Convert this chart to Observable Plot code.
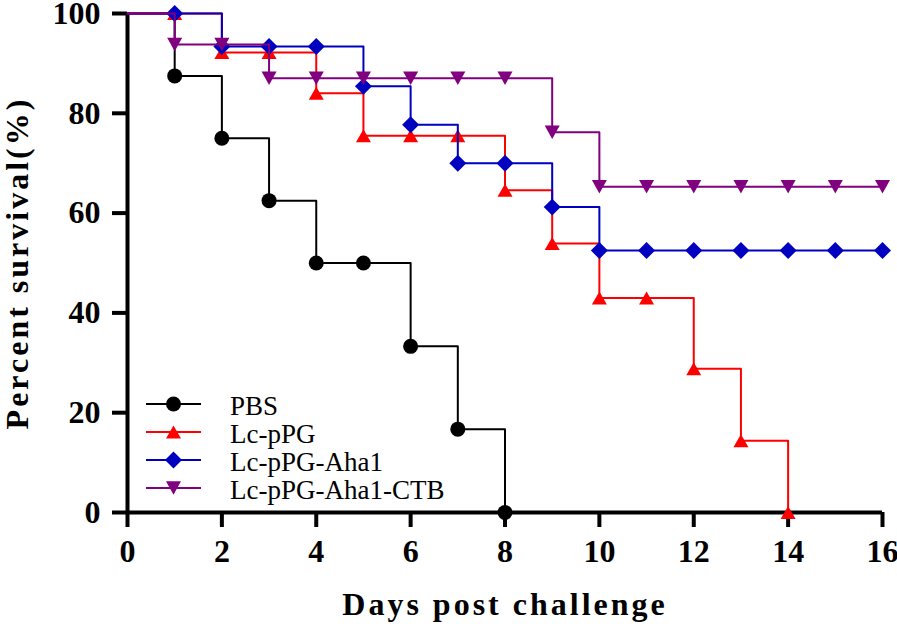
<!DOCTYPE html>
<html>
<head>
<meta charset="utf-8">
<script src="https://cdn.jsdelivr.net/npm/d3@7"></script>
<script src="https://cdn.jsdelivr.net/npm/@observablehq/plot@0.6"></script>
<style>
  html, body { margin: 0; padding: 0; background: #fff; }
  #chart { width: 897px; height: 626px; position: relative; }
</style>
</head>
<body>
<div id="chart"></div>
<script>
// ---- Data ----
const groups = ["PBS", "Lc-pPG", "Lc-pPG-Aha1", "Lc-pPG-Aha1-CTB"];
const colors = ["#000000", "#ff0000", "#0000c0", "#800080"];

const pbsDays = [0, 1, 2, 3, 4, 5, 6, 7, 8];
const pbsSurvival = [100, 87.5, 75, 62.5, 50, 50, 33.3, 16.7, 0];

const lcpDays = [0, 1, 2, 3, 4, 5, 6, 7, 8, 9, 10, 11, 12, 13, 14];
const lcpSurvival = [100, 100, 92.2, 92.2, 84, 75.5, 75.5, 75.5, 64.6, 53.9, 43, 43, 28.8, 14.4, 0];

const ahaDays = [0, 1, 2, 3, 4, 5, 6, 7, 8, 9, 10, 11, 12, 13, 14, 15, 16];
const ahaSurvival = [100, 100, 93.4, 93.4, 93.4, 85.4, 77.7, 70, 70, 61.2, 52.5, 52.5, 52.5, 52.5, 52.5, 52.5, 52.5];

const ctbDays = [0, 1, 2, 3, 4, 5, 6, 7, 8, 9, 10, 11, 12, 13, 14, 15, 16];
const ctbSurvival = [100, 93.8, 93.8, 87, 87, 87, 87, 87, 87, 76.2, 65.3, 65.3, 65.3, 65.3, 65.3, 65.3, 65.3];

const xTicks = [0, 2, 4, 6, 8, 10, 12, 14, 16];
const yTicks = [0, 20, 40, 60, 80, 100];
const xTitle = "Days post challenge";
const yTitle = "Percent survival(%)";

// ---- Symbols (bounding-box centred) ----
const rOf = size => Math.sqrt(size / Math.PI);
const triUp = { draw(ctx, size) { const r = rOf(size), w = 2 * r, h = 0.866 * w;
  ctx.moveTo(0, -h / 2); ctx.lineTo(w / 2, h / 2); ctx.lineTo(-w / 2, h / 2); ctx.closePath(); } };
const triDown = { draw(ctx, size) { const r = rOf(size), w = 2 * r, h = 0.9 * w;
  ctx.moveTo(0, h / 2); ctx.lineTo(w / 2, -h / 2); ctx.lineTo(-w / 2, -h / 2); ctx.closePath(); } };
const diamond = { draw(ctx, size) { const r = rOf(size), d = r * 1.13;
  ctx.moveTo(0, -d); ctx.lineTo(d, 0); ctx.lineTo(0, d); ctx.lineTo(-d, 0); ctx.closePath(); } };
const symbols = [d3.symbolCircle, triUp, diamond, triDown];
const radii = [7.5, 7.5, 7.5, 7.5];

const seriesDays = [pbsDays, lcpDays, ahaDays, ctbDays];
const seriesSurv = [pbsSurvival, lcpSurvival, ahaSurvival, ctbSurvival];
const series = groups.map((g, i) => ({
  name: g, color: colors[i], symbol: symbols[i], r: radii[i],
  rows: seriesDays[i].map((d, j) => ({day: d, pct: seriesSurv[i][j]}))
}));

const font = "'Liberation Serif', 'Times New Roman', Times, serif";

const marks = [
  Plot.axisX({ticks: xTicks, tickSize: 15, tickPadding: 12, strokeWidth: 4, fontSize: 32, fontWeight: "bold", label: null}),
  Plot.axisY({ticks: yTicks, tickSize: 15, tickPadding: 12, strokeWidth: 4, fontSize: 32, fontWeight: "bold", label: null}),
  Plot.ruleX([0], {strokeWidth: 4}),
  Plot.ruleY([0], {strokeWidth: 4})
];
series.forEach(s => {
  marks.push(Plot.line(s.rows, {x: "day", y: "pct", curve: "step-after", stroke: s.color, strokeWidth: 2}));
  marks.push(Plot.dot(s.rows.filter(d => d.day > 0), {x: "day", y: "pct", symbol: s.symbol, r: s.r, fill: s.color, stroke: "none"}));
});
marks.push(Plot.text([xTitle], {text: d => d, frameAnchor: "bottom", textAnchor: "middle", dy: 102, lineAnchor: "bottom", fontSize: 32, fontWeight: "bold"}));
marks.push(Plot.text([yTitle], {text: d => d, frameAnchor: "left", textAnchor: "middle", dx: -100, rotate: -90, lineAnchor: "bottom", fontSize: 32, fontWeight: "bold"}));

const svg = Plot.plot({
  width: 897, height: 626,
  marginLeft: 127, marginRight: 15, marginTop: 13, marginBottom: 114,
  x: {domain: [0, 16]},
  y: {domain: [0, 100]},
  style: {fontFamily: font, background: "white", overflow: "visible"},
  marks
});

// letter-spacing for titles
d3.select(svg).selectAll("text")
  .filter(function() { return this.textContent === xTitle || this.textContent === yTitle; })
  .attr("letter-spacing", 3);

// ---- Legend (inside plot area, bottom-left) ----
const lg = d3.select(svg).append("g").attr("transform", "translate(146,404)");
groups.forEach((g, i) => {
  const row = lg.append("g").attr("transform", `translate(0,${i * 28})`);
  row.append("line").attr("x1", 0).attr("x2", 55).attr("y1", 0).attr("y2", 0)
    .attr("stroke", colors[i]).attr("stroke-width", 2);
  row.append("path").attr("transform", "translate(27.5,0)")
    .attr("d", d3.symbol().type(symbols[i]).size(radii[i] * radii[i] * Math.PI)())
    .attr("fill", colors[i]);
  row.append("text").attr("x", 84).attr("y", 11)
    .attr("text-anchor", "start")
    .attr("font-size", 27).attr("font-family", font).attr("fill", "#000")
    .text(g);
});

document.getElementById("chart").appendChild(svg);
</script>
</body>
</html>
